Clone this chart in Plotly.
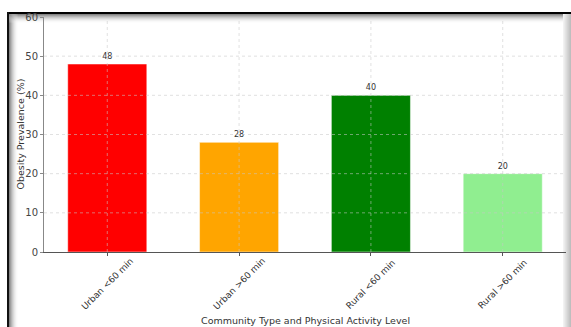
import plotly.graph_objects as go

categories = ["Urban <60 min", "Urban >60 min", "Rural <60 min", "Rural >60 min"]
values = [48, 28, 40, 20]
colors = ["#ff0000", "#ffa500", "#008000", "#90ee90"]
y_ticks = [0, 10, 20, 30, 40, 50, 60]
x_title = "Community Type and Physical Activity Level"
y_title = "Obesity Prevalence (%)"

W, H = 571, 327
L, R, T, B = 44, 5, 17, 75
PW = W - L - R
PH = H - T - B


def px_x(p):
    return (p - L) / PW


def px_y(p):
    return (H - B - p) / PH


FONT = "DejaVu Sans"

fig = go.Figure()
fig.add_trace(go.Bar(
    x=categories, y=values,
    marker=dict(color=colors, line=dict(color="rgba(255,255,255,0.5)", width=1)),
    width=0.6,
    texttemplate="%{y}", textposition="outside",
    textfont=dict(family=FONT, size=8, color="#333"),
    cliponaxis=False,
))

shapes = []
# grid lines above bars
grid_line = dict(color="rgba(200,200,200,0.55)", width=1, dash="dot")
for t in y_ticks[1:-1]:
    shapes.append(dict(type="line", xref="paper", yref="y", x0=0, x1=1, y0=t, y1=t,
                       line=grid_line, layer="above"))
for c in categories:
    shapes.append(dict(type="line", xref="x", yref="paper", x0=c, x1=c, y0=0, y1=1,
                       line=grid_line, layer="above"))


def rect(x0, x1, y0, y1, color):
    shapes.append(dict(type="rect", xref="paper", yref="paper",
                       x0=px_x(x0), x1=px_x(x1), y0=px_y(y1), y1=px_y(y0),
                       fillcolor=color, line=dict(width=0), layer="below"))


# frame (screenshot border) decoration
n = 9
for i in range(n):
    g = int(120 + (255 - 120) * (i + 1) / (n + 1))
    a = 1.0 - i / n
    rect(9 + i, 10 + i, 13, H, f"rgba({g},{g},{g},{a:.2f})")
    rect(9, W, 14 + i, 15 + i, f"rgba({g},{g},{g},{a:.2f})")
for i in range(8):
    g = int(250 - (250 - 190) * (i + 1) / 8)
    rect(563 + i, 564 + i, 14, H, f"rgb({g},{g},{g})")
rect(7, W, 12, 14, "#000")
rect(7, 9, 12, H, "#111")

annotations = []
for c in categories:
    annotations.append(dict(x=c, xref="x", y=px_y(284), yref="paper",
                            text=c, textangle=-45, showarrow=False,
                            xanchor="center", yanchor="middle",
                            font=dict(family=FONT, size=9, color="#333")))
annotations.append(dict(x=0.5, xref="paper", y=px_y(320), yref="paper",
                        text=x_title, showarrow=False, xanchor="center", yanchor="middle",
                        font=dict(family=FONT, size=9.5, color="#333")))
annotations.append(dict(x=px_x(20), xref="paper", y=0.5, yref="paper",
                        text=y_title, textangle=-90, showarrow=False,
                        xanchor="center", yanchor="middle",
                        font=dict(family=FONT, size=9.5, color="#333")))

fig.update_layout(
    width=W, height=H,
    margin=dict(l=L, r=R, t=T, b=B, pad=0),
    paper_bgcolor="white", plot_bgcolor="rgba(0,0,0,0)",
    showlegend=False,
    bargap=0.4,
    shapes=shapes,
    annotations=annotations,
    xaxis=dict(range=[-0.48, 3.48], showticklabels=False, showgrid=False,
               showline=True, linecolor="#555", linewidth=1,
               ticks="outside", ticklen=3, tickcolor="#555", zeroline=False),
    yaxis=dict(range=[0, 60], tickvals=y_ticks, showgrid=False,
               showline=True, linecolor="#888", linewidth=1,
               ticks="outside", ticklen=3, tickcolor="#888", zeroline=False,
               tickfont=dict(family=FONT, size=10, color="#444")),
)

fig.write_html("out.html")
